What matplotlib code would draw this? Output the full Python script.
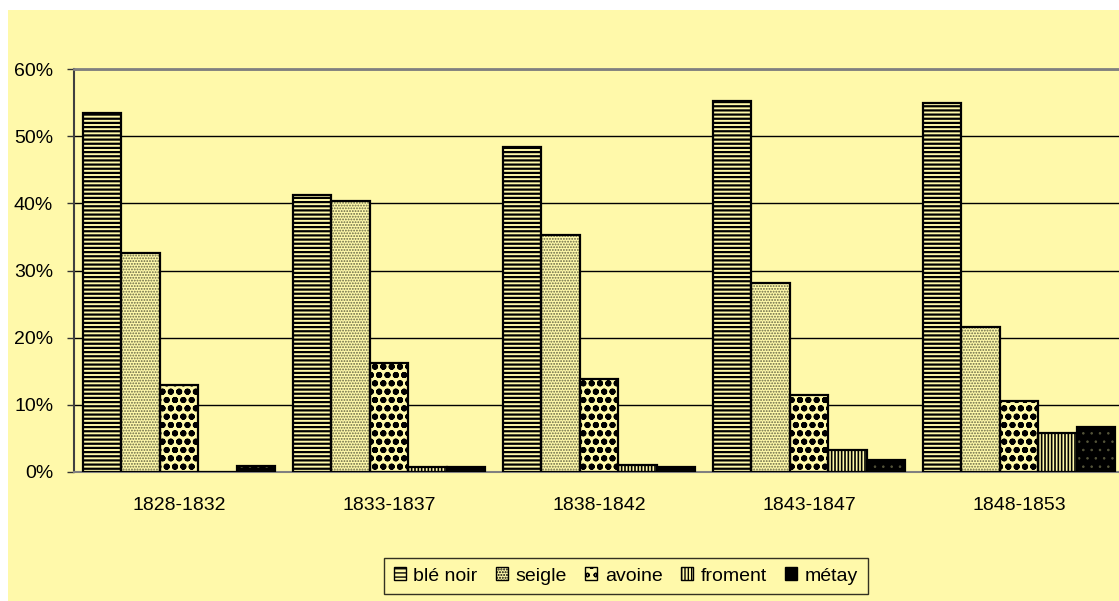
import matplotlib
matplotlib.use("Agg")
import matplotlib.pyplot as plt
import numpy as np
from matplotlib.patches import Rectangle, Patch

categories = ["1828-1832", "1833-1837", "1838-1842", "1843-1847", "1848-1853"]
series_names = ["blé noir", "seigle", "avoine", "froment", "métay"]
ble_noir = [53.4, 41.2, 48.4, 55.2, 55.0]
seigle = [32.6, 40.3, 35.3, 28.1, 21.6]
avoine = [12.9, 16.2, 13.8, 11.5, 10.6]
froment = [0.0, 0.8, 1.1, 3.3, 5.8]
metay = [0.9, 0.8, 0.8, 1.8, 6.7]
yticks = [0, 10, 20, 30, 40, 50, 60]

series = [ble_noir, seigle, avoine, froment, metay]
BG = "#FFF9AA"
styles = [
    dict(face=BG, hatch="----", hcol="black", hlw=1.6),
    dict(face=BG, hatch="......", hcol="#666644", hlw=0.9),
    dict(face=BG, hatch="oo", hcol="black", hlw=2.0),
    dict(face=BG, hatch="|||||", hcol="black", hlw=1.2),
    dict(face="black", hatch="..", hcol="#55553A", hlw=0.6),
]

plt.rcParams["font.family"] = ["Liberation Sans", "DejaVu Sans"]
plt.rcParams["font.size"] = 14

W, H = 1119, 601
fig = plt.figure(figsize=(W / 100, H / 100), dpi=100)
fig.patch.set_facecolor("white")
bgrect = Rectangle((8 / W, 0), 1 - 8 / W, (H - 10) / H,
                   transform=fig.transFigure, facecolor=BG,
                   edgecolor="none", zorder=-10)
fig.patches.append(bgrect)

ax_left, ax_right, ax_top, ax_bot = 74, 1124, 69, 472
ax = fig.add_axes([ax_left / W, (H - ax_bot) / H, (ax_right - ax_left) / W,
                   (ax_bot - ax_top) / H])
ax.set_zorder(1)
ax.set_facecolor(BG)

x = np.arange(len(categories))
bw = 0.183
n = len(series)
for i, (vals, st) in enumerate(zip(series, styles)):
    pos = x + (i - (n - 1) / 2) * bw
    ax.bar(pos, vals, width=bw, color=st["face"], edgecolor="none", zorder=2)
    hb = ax.bar(pos, vals, width=bw, fill=False, hatch=st["hatch"],
                edgecolor=st["hcol"], linewidth=0, zorder=3)
    for p in hb:
        if hasattr(p, "set_hatch_linewidth"):
            p.set_hatch_linewidth(st["hlw"])
    ax.bar(pos, vals, width=bw, fill=False, edgecolor="black", linewidth=1.6,
           zorder=4)

ax.set_xlim(-0.5, len(categories) - 0.5)
ax.set_ylim(0, 60)
ax.set_yticks(yticks)
ax.set_yticklabels([f"{v}%" for v in yticks])
ax.set_xticks(x)
ax.set_xticklabels(categories)
ax.tick_params(axis="x", length=0, pad=18, labelsize=14)
ax.tick_params(axis="y", length=5, width=1, color="#333333", pad=10,
               labelsize=14)
ax.yaxis.grid(True, color="black", linewidth=1.0, zorder=1)
ax.set_axisbelow(True)
ax.spines["right"].set_visible(False)
ax.spines["top"].set_color("#808080")
ax.spines["top"].set_linewidth(2)
ax.spines["left"].set_color("#404040")
ax.spines["left"].set_linewidth(1.5)
ax.spines["bottom"].set_color("#808080")
ax.spines["bottom"].set_linewidth(1.5)

handles = []
for name, st in zip(series_names, styles):
    h = Patch(facecolor=st["face"], edgecolor="black", hatch=st["hatch"],
              linewidth=1.0, label=name)
    handles.append(h)
leg = fig.legend(handles=handles, loc="center", ncol=5,
                 bbox_to_anchor=(626 / W, (H - 576) / H),
                 frameon=True, fancybox=False, handlelength=0.6,
                 handleheight=0.6, handletextpad=0.4, columnspacing=0.95,
                 borderpad=0.5, fontsize=14)
leg.get_frame().set_facecolor(BG)
leg.get_frame().set_edgecolor("black")
leg.get_frame().set_linewidth(1.0)

fig.savefig("out.png", dpi=100, facecolor=fig.get_facecolor())
